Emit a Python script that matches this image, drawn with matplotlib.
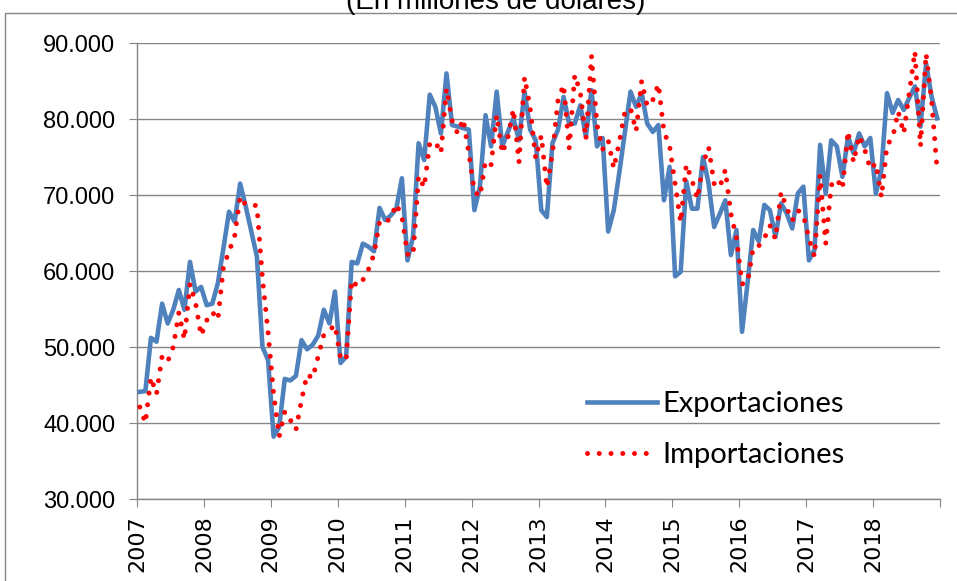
import numpy as np
import matplotlib
matplotlib.use("Agg")
from matplotlib import pyplot as plt
from matplotlib.patches import Rectangle
from matplotlib.ticker import FuncFormatter

# monthly values, millions of US dollars / 1000 (Jan 2007 - Dec 2018)
years = [str(y) for y in range(2007, 2019)]

exportaciones = [
    44.1, 44.2, 51.2, 50.7, 55.7, 53.1, 54.9, 57.5, 54.9, 61.2, 57.3, 57.9,
    55.5, 55.7, 58.4, 63.0, 67.8, 66.5, 71.5, 68.5, 65.2, 61.9, 50.0, 48.3,
    38.2, 39.5, 45.8, 45.6, 46.2, 50.9, 49.7, 50.3, 51.5, 54.9, 53.1, 57.3,
    47.9, 48.7, 61.2, 61.0, 63.6, 63.2, 62.6, 68.3, 66.7, 67.3, 68.2, 72.2,
    61.4, 64.5, 76.8, 74.6, 83.2, 81.6, 78.1, 86.0, 79.2, 79.0, 78.8, 78.6,
    68.0, 71.1, 80.5, 76.4, 83.6, 76.4, 78.3, 80.1, 77.2, 83.6, 78.6, 77.2,
    68.0, 67.1, 76.8, 78.6, 82.9, 79.4, 79.4, 81.8, 77.7, 83.8, 76.4, 77.5,
    65.2, 68.0, 73.0, 78.3, 83.6, 81.6, 83.4, 79.4, 78.3, 79.2, 69.3, 73.7,
    59.3, 59.9, 71.8, 68.2, 68.2, 75.0, 71.5, 65.8, 67.5, 69.3, 62.1, 65.4,
    52.0, 58.5, 65.4, 63.9, 68.7, 68.0, 64.5, 68.9, 67.6, 65.6, 70.2, 71.1,
    61.4, 62.8, 76.6, 70.2, 77.2, 76.4, 72.4, 77.7, 75.5, 78.1, 76.4, 77.5,
    70.2, 73.3, 83.4, 80.8, 82.5, 81.2, 82.8, 84.3, 79.0, 87.3, 82.9, 80.1,
]

importaciones = [
    42.1, 40.0, 46.0, 43.8, 48.8, 48.1, 50.0, 54.5, 51.0, 58.3, 55.8, 51.5,
    53.5, 54.6, 53.6, 60.5, 62.6, 64.5, 69.8, 68.7, 68.7, 68.6, 59.0, 52.0,
    43.8, 38.2, 41.5, 40.4, 39.1, 43.0, 46.4, 45.9, 48.8, 51.6, 52.2, 52.9,
    48.5, 48.3, 58.8, 58.0, 58.8, 60.2, 62.2, 66.5, 66.3, 67.0, 68.8, 67.2,
    62.2, 62.0, 72.5, 71.0, 76.8, 77.0, 75.5, 84.0, 79.8, 78.1, 80.0, 75.5,
    70.5, 69.8, 74.5, 74.0, 80.5, 75.5, 77.5, 81.3, 74.3, 85.5, 81.5, 74.8,
    77.8, 71.0, 75.5, 82.5, 84.5, 76.1, 85.8, 83.5, 77.3, 88.3, 79.2, 76.0,
    77.2, 73.5, 77.0, 81.0, 81.4, 78.4, 85.0, 81.7, 82.5, 84.6, 78.3, 76.5,
    71.5, 66.4, 74.0, 72.0, 69.5, 74.0, 76.3, 71.5, 71.0, 73.3, 67.5, 64.4,
    58.3, 58.5, 63.1, 63.3, 64.3, 66.0, 64.2, 70.4, 68.3, 66.6, 68.0, 67.3,
    64.3, 61.9, 72.6, 63.6, 71.3, 72.1, 70.8, 78.4, 74.3, 77.8, 76.0, 73.4,
    74.2, 69.7, 76.6, 77.5, 81.0, 78.1, 83.5, 88.9, 76.4, 88.6, 82.4, 73.1,
]

expo = np.array(exportaciones) * 1000
impo = np.array(importaciones) * 1000
months = np.arange(len(expo)) + 0.5

grid_col = '#868686'

fig = plt.figure(figsize=(9.57, 5.81), dpi=100)
ax = fig.add_axes([137 / 957, 1 - 499 / 581, 803 / 957, 456 / 581])

# outer chart border (cut by the image edge)
fig.patches.append(Rectangle((5 / 957, -0.1), 1.2, 1.1 - 13 / 581,
                             transform=fig.transFigure, fill=False,
                             edgecolor=grid_col, lw=1.0))

# title sits mostly above the image, as in the original export
fig.text(496 / 957, 1 - 9 / 581, '(En millones de dólares)', ha='center',
         va='baseline', fontsize=20, family='Liberation Sans')

ax.plot(months, expo, color='#4F81BD', lw=3.3, solid_joinstyle='round',
        label='Exportaciones', zorder=3)
ax.plot(months, impo, color='#FF0000', lw=3.6, linestyle=(0, (0.001, 2.35)),
        dash_capstyle='round', label='Importaciones', zorder=4)

ax.set_xlim(0, len(expo))
ax.set_ylim(30000, 90000)
ax.set_yticks(np.arange(30000, 90001, 10000))
ax.yaxis.set_major_formatter(FuncFormatter(lambda v, p: f"{v:,.0f}".replace(",", ".")))
ax.set_xticks(np.arange(0, len(expo) + 1, 12))
ax.set_xticklabels(years + [''], rotation=90, family='DejaVu Sans', fontsize=16)

ax.grid(axis='y', color=grid_col, lw=1.0)
ax.set_axisbelow(True)
for s in ['top', 'right']:
    ax.spines[s].set_visible(False)
for s in ['left', 'bottom']:
    ax.spines[s].set_color(grid_col)
    ax.spines[s].set_linewidth(1.0)

ax.tick_params(axis='y', length=6, color=grid_col, pad=9.5, labelsize=17)
ax.tick_params(axis='x', length=6, color=grid_col, pad=6)
for t in ax.get_yticklabels():
    t.set_family('Liberation Sans')

ax.legend(loc='center left', bbox_to_anchor=(587 / 957, 1 - 429.5 / 581),
          bbox_transform=fig.transFigure, frameon=False, borderpad=0,
          borderaxespad=0, handlelength=2.4, handletextpad=0.2,
          labelspacing=0.85, prop={'family': 'Lato', 'size': 21})

fig.savefig('out.png', dpi=100)
